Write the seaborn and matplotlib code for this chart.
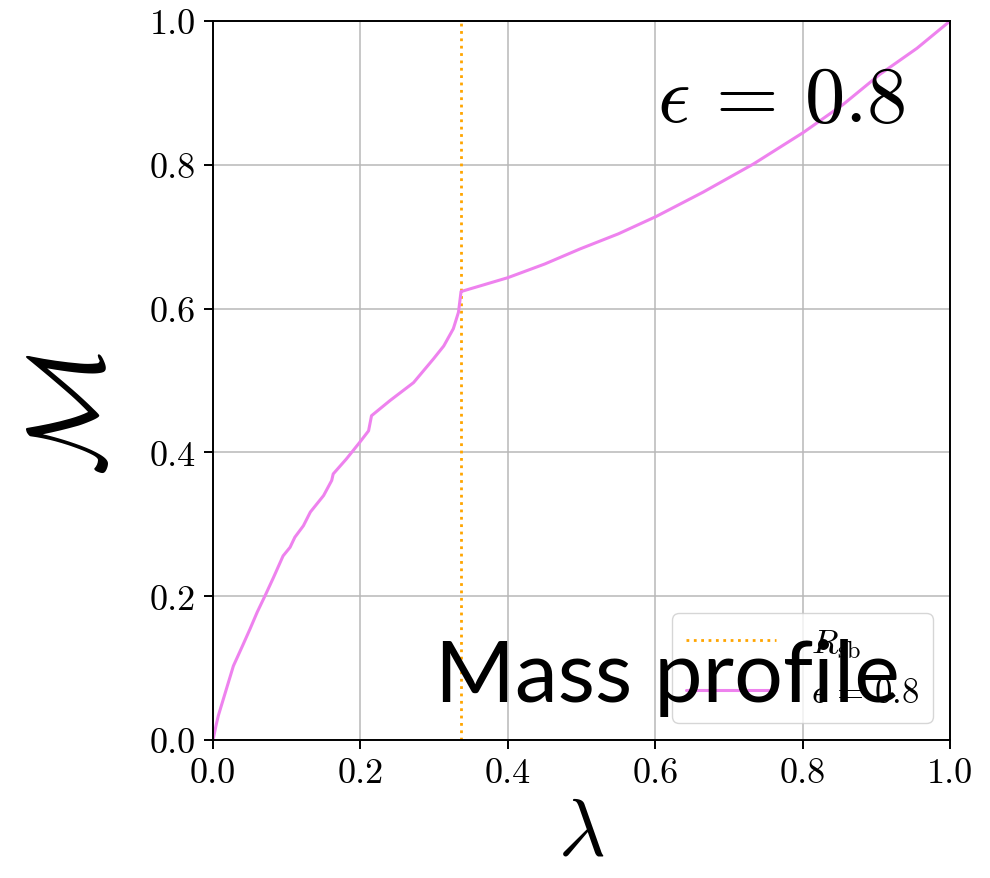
import matplotlib
matplotlib.use("Agg")
import matplotlib.pyplot as plt
import seaborn as sns
import pandas as pd

# Enclosed mass fraction M versus normalised radius lambda
lam = [0.0, 0.004, 0.0072, 0.014, 0.0276, 0.040, 0.050, 0.060, 0.0706, 0.082,
       0.095, 0.1045, 0.111, 0.1226, 0.132, 0.150, 0.161, 0.163, 0.181, 0.199,
       0.211, 0.215, 0.240, 0.272, 0.299, 0.313, 0.326, 0.333, 0.3365, 0.3375,
       0.400, 0.450, 0.498, 0.550, 0.601, 0.665, 0.733, 0.801, 0.855, 0.905,
       0.955, 1.0]
mass = [0.0, 0.020, 0.034, 0.057, 0.103, 0.131, 0.154, 0.178, 0.2007, 0.226,
        0.256, 0.268, 0.282, 0.298, 0.317, 0.340, 0.361, 0.370, 0.391, 0.414,
        0.430, 0.451, 0.472, 0.497, 0.530, 0.548, 0.572, 0.595, 0.624, 0.624,
        0.643, 0.662, 0.683, 0.704, 0.728, 0.762, 0.801, 0.845, 0.884, 0.926,
        0.962, 1.0]

r_sb = 0.3365
eps_label = r"$\epsilon\,=\,0.8$"
sb_label = r"$R_{\rm sb}$"
ticks = [0.0, 0.2, 0.4, 0.6, 0.8, 1.0]

sns.set_theme(style="whitegrid")
plt.rcParams.update({
    "font.family": "serif",
    "font.serif": ["cmr10"],
    "mathtext.fontset": "cm",
    "axes.formatter.use_mathtext": True,
    "text.color": "black",
    "axes.labelcolor": "black",
    "axes.edgecolor": "black",
    "axes.linewidth": 1.4,
    "grid.color": "#b8b8b8",
    "grid.linewidth": 1.1,
    "xtick.bottom": True,
    "ytick.left": True,
    "xtick.major.size": 6.5,
    "ytick.major.size": 6.5,
    "xtick.major.width": 1.4,
    "ytick.major.width": 1.4,
    "xtick.color": "black",
    "ytick.color": "black",
})

df = pd.DataFrame({"lambda": lam, "M": mass})

fig = plt.figure(figsize=(9.9, 8.79), dpi=100)
ax = fig.add_axes([0.2152, 0.157, 0.7445, 0.818])

ax.axvline(r_sb, color="orange", linestyle=":", linewidth=2.0, label=sb_label)
sns.lineplot(data=df, x="lambda", y="M", sort=False, estimator=None,
             color="violet", linewidth=2.2, label=eps_label, ax=ax)

ax.set_xlim(0, 1)
ax.set_ylim(0, 1)
ax.set_xticks(ticks)
ax.set_yticks(ticks)
ax.set_xticklabels([f"{t:.1f}" for t in ticks])
ax.set_yticklabels([f"{t:.1f}" for t in ticks])
ax.tick_params(labelsize=26, pad=6)
for s in ax.spines.values():
    s.set_color("black")

ax.set_xlabel(r"$\lambda$", fontsize=58, labelpad=6)
ax.set_ylabel(r"$\mathcal{M}$", fontsize=78)
ax.yaxis.set_label_coords(-0.12, 0.455)

leg = ax.legend(loc="lower right", fontsize=25, frameon=True, framealpha=0.8,
                edgecolor="#cccccc", fancybox=True, handlelength=2.6,
                handletextpad=1.0)
leg.set_zorder(5)

ax.text(0.939, 0.861, eps_label, transform=ax.transAxes, fontsize=58,
        ha="right", va="baseline")
ax.text(0.932, 0.054, "Mass profile", transform=ax.transAxes, fontsize=62,
        family="Lato", ha="right", va="baseline", color="black", zorder=10)

fig.savefig("out.png", dpi=100)
